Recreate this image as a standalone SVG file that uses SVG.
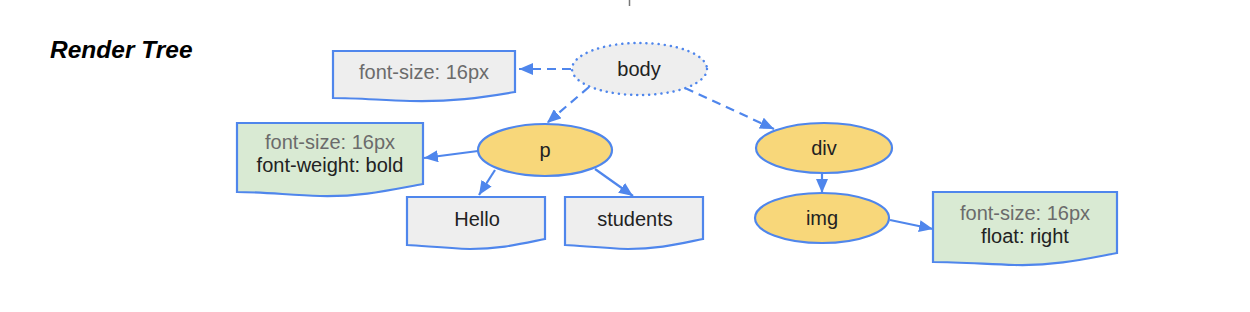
<svg xmlns="http://www.w3.org/2000/svg" width="1250" height="312" viewBox="0 0 1250 312">
<style>
.doc{stroke:#4f86ec;stroke-width:2.2}
.grey{fill:#eeeeee}
.green{fill:#d9ead3}
.ell{fill:#f8d77a;stroke:#4f86ec;stroke-width:2.2}
.t{font-family:"Liberation Sans",Arial,sans-serif;font-size:20px;fill:#222;text-anchor:middle}
.g{fill:#6b6b6b}
.c{stroke:#4f86ec;stroke-width:2.2;fill:none}
.d{stroke-dasharray:9,6}
</style>
<defs>
<marker id="ah" markerUnits="userSpaceOnUse" markerWidth="14" markerHeight="12" viewBox="0 0 14 12" refX="14" refY="6" orient="auto">
<path d="M0,0 L14,6 L0,12 z" fill="#4f86ec"/>
</marker>
</defs>
<rect width="1250" height="312" fill="#ffffff"/>
<line x1="629.5" y1="0" x2="629.5" y2="6" stroke="#777" stroke-width="1.5"/>
<text x="50" y="58" font-family="'Liberation Sans',Arial,sans-serif" font-size="24.5" font-weight="bold" font-style="italic" fill="#000">Render Tree</text>

<g id="connectors">
<line class="c d" x1="571" y1="69" x2="519" y2="69" marker-end="url(#ah)"/>
<line class="c d" x1="589" y1="87" x2="547" y2="123" marker-end="url(#ah)"/>
<line class="c d" x1="685" y1="88" x2="774" y2="129" marker-end="url(#ah)"/>
<line class="c" x1="478" y1="151" x2="424" y2="158" marker-end="url(#ah)"/>
<line class="c" x1="495" y1="170" x2="479" y2="195" marker-end="url(#ah)"/>
<line class="c" x1="595" y1="169" x2="633" y2="196" marker-end="url(#ah)"/>
<line class="c" x1="822" y1="173" x2="822" y2="193" marker-end="url(#ah)"/>
<line class="c" x1="890" y1="220" x2="933" y2="229" marker-end="url(#ah)"/>
</g>

<g id="body">
<ellipse cx="639.5" cy="69" rx="67.5" ry="26" fill="#eeeeee" stroke="#4f86ec" stroke-width="2.5" stroke-dasharray="0.1,6" stroke-linecap="round"/>
<text class="t" x="639" y="76">body</text>
</g>

<g id="body-style">
<path class="doc grey" d="M333,51 H515 V92 C480,98 450,102 410,101 C380,100 355,98 333,98 Z"/>
<text class="t g" x="424" y="79">font-size: 16px</text>
</g>

<g id="p">
<ellipse class="ell" cx="545" cy="150" rx="67" ry="26"/>
<text class="t" x="545" y="157">p</text>
</g>

<g id="p-style">
<path class="doc green" d="M237,123 H423 V184 C390,190 360,197 320,196 C290,195 262,192 237,192 Z"/>
<text class="t g" x="330" y="149">font-size: 16px</text>
<text class="t" x="330" y="172">font-weight: bold</text>
</g>

<g id="hello">
<path class="doc grey" d="M407,197 H545 V239 C520,244 500,249 470,249 C445,248 425,246 407,245 Z"/>
<text class="t" x="477" y="226">Hello</text>
</g>

<g id="students">
<path class="doc grey" d="M565,197 H703 V239 C678,244 658,249 628,249 C603,248 583,246 565,245 Z"/>
<text class="t" x="635" y="226">students</text>
</g>

<g id="div">
<ellipse class="ell" cx="824" cy="148" rx="68" ry="25"/>
<text class="t" x="824" y="155">div</text>
</g>

<g id="img">
<ellipse class="ell" cx="822" cy="218" rx="67" ry="25"/>
<text class="t" x="822" y="225">img</text>
</g>

<g id="img-style">
<path class="doc green" d="M933,192 H1117 V253 C1085,259 1055,266 1015,265 C985,264 958,262 933,262 Z"/>
<text class="t g" x="1025" y="220">font-size: 16px</text>
<text class="t" x="1025" y="243">float: right</text>
</g>
</svg>
